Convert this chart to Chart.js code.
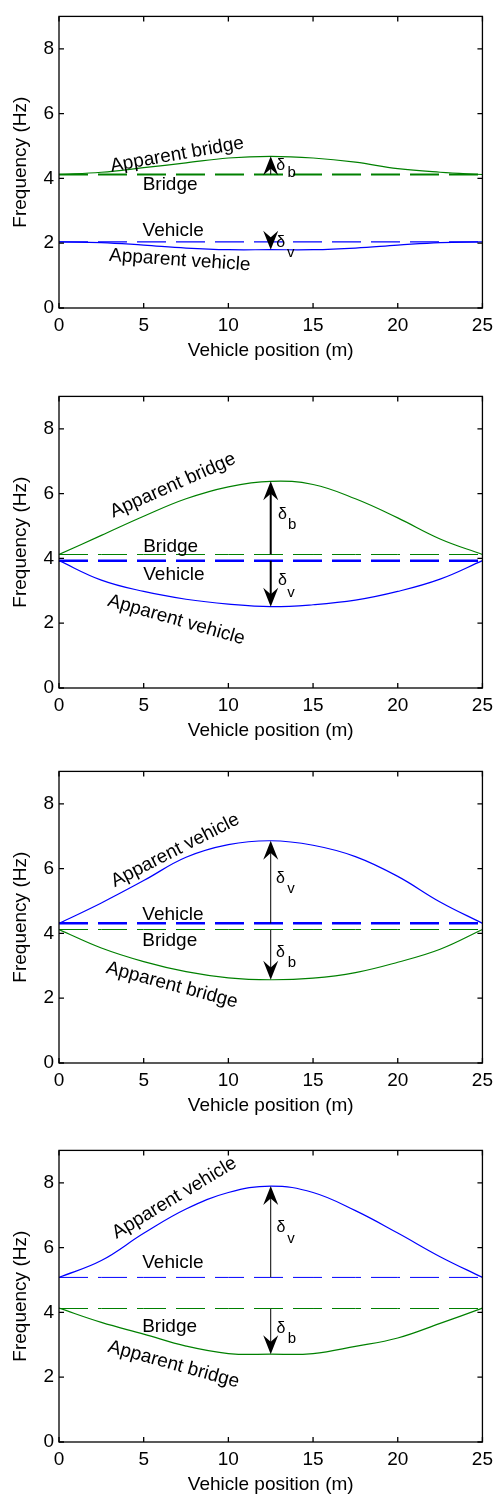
<!DOCTYPE html>
<html>
<head>
<meta charset="utf-8">
<script src="https://cdn.jsdelivr.net/npm/chart.js@4.4.0/dist/chart.umd.min.js"></script>
<style>
  html, body { margin: 0; padding: 0; background: #fff; }
  .panel { position: absolute; left: 0; width: 499px; height: 360px; }
</style>
</head>
<body>
<div class="panel" style="top:0px"><canvas id="c0" width="499" height="360"></canvas></div>
<div class="panel" style="top:380px"><canvas id="c1" width="499" height="360"></canvas></div>
<div class="panel" style="top:755px"><canvas id="c2" width="499" height="360"></canvas></div>
<div class="panel" style="top:1134px"><canvas id="c3" width="499" height="360"></canvas></div>
<script>
const positions = [0, 2.5, 5, 7.5, 10, 12.5, 15, 17.5, 20, 22.5, 25];
const xTicks = [0, 5, 10, 15, 20, 25];
const yTicks = [0, 2, 4, 6, 8];

// constant natural frequencies per panel (Hz)
const bridgeFreq = [4.12, 4.12, 4.12, 4.12];
const vehicleFreq = [2.04, 3.93, 4.31, 5.08];

// apparent frequencies
const appBridge1 = [4.12, 4.19, 4.33, 4.48, 4.63, 4.68, 4.63, 4.5, 4.3, 4.19, 4.12];
const appVehicle1 = [2.04, 2.02, 1.94, 1.85, 1.8, 1.8, 1.8, 1.85, 1.94, 2.02, 2.04];
const appBridge2 = [4.12, 4.71, 5.3, 5.84, 6.21, 6.38, 6.28, 5.84, 5.25, 4.6, 4.12];
const appVehicle2 = [3.93, 3.33, 2.98, 2.74, 2.59, 2.51, 2.57, 2.71, 2.98, 3.36, 3.93];
const appVehicle3 = [4.31, 4.94, 5.63, 6.35, 6.74, 6.86, 6.72, 6.37, 5.76, 4.97, 4.31];
const appBridge3 = [4.12, 3.55, 3.13, 2.82, 2.63, 2.57, 2.62, 2.79, 3.11, 3.51, 4.12];
const appVehicle4 = [5.08, 5.6, 6.44, 7.19, 7.7, 7.9, 7.7, 7.14, 6.45, 5.72, 5.08];
const appBridge4 = [4.13, 3.69, 3.33, 2.96, 2.73, 2.71, 2.73, 2.95, 3.21, 3.66, 4.13];

const GREEN = '#008000';
const BLUE = '#0000ff';
const FONT = '"Liberation Sans", Arial, Helvetica, sans-serif';

const panels = [
  {
    appBridge: appBridge1, appVehicle: appVehicle1, bridgeW: 2, vehicleW: 1.2, arrowW: 1,
    labels: [['Apparent bridge', 6.97, 4.73, -10], ['Bridge', 6.56, 3.79, 0], ['Vehicle', 6.74, 2.38, 0], ['Apparent vehicle', 7.13, 1.47, 4]],
    deltas: [['b', 13.09, 4.40, 13.74, 4.16], ['v', 13.09, 2.01, 13.68, 1.70]],
    arrows: [['bridge', 'appBridge'], ['vehicle', 'appVehicle']]
  },
  {
    appBridge: appBridge2, appVehicle: appVehicle2, bridgeW: 1, vehicleW: 2.5, arrowW: 2,
    labels: [['Apparent bridge', 6.73, 6.25, -24], ['Bridge', 6.59, 4.36, 0], ['Vehicle', 6.78, 3.49, 0], ['Apparent vehicle', 6.92, 2.10, 16]],
    deltas: [['b', 13.2, 5.34, 13.76, 5.05], ['v', 13.2, 3.33, 13.7, 2.94]],
    arrows: [['bridge', 'appBridge'], ['vehicle', 'appVehicle']]
  },
  {
    appBridge: appBridge3, appVehicle: appVehicle3, bridgeW: 1, vehicleW: 2.5, arrowW: 1,
    labels: [['Apparent vehicle', 6.87, 6.56, -27], ['Vehicle', 6.73, 4.59, 0], ['Bridge', 6.54, 3.77, 0], ['Apparent bridge', 6.67, 2.40, 15]],
    deltas: [['v', 13.08, 5.70, 13.7, 5.38], ['b', 13.08, 3.42, 13.75, 3.10]],
    arrows: [['vehicle', 'appVehicle'], ['bridge', 'appBridge']]
  },
  {
    appBridge: appBridge4, appVehicle: appVehicle4, bridgeW: 1, vehicleW: 1, arrowW: 1,
    labels: [['Apparent vehicle', 6.82, 7.53, -31], ['Vehicle', 6.72, 5.52, 0], ['Bridge', 6.53, 3.56, 0], ['Apparent bridge', 6.77, 2.39, 15.5]],
    deltas: [['v', 13.1, 6.61, 13.7, 6.28], ['b', 13.1, 3.51, 13.75, 3.18]],
    arrows: [['vehicle', 'appVehicle'], ['bridge', 'appBridge']]
  }
];

function pts(values) {
  return positions.map((x, i) => ({ x, y: values[i] }));
}

function drawArrow(ctx, x, yBase, yTip, lw) {
  const dir = yBase > yTip ? 1 : -1;
  const len = 19, half = 7.5;
  ctx.save();
  ctx.strokeStyle = '#000';
  ctx.fillStyle = '#000';
  ctx.lineWidth = lw;
  ctx.beginPath();
  ctx.moveTo(x, yBase);
  ctx.lineTo(x, yTip + dir * len * 0.6);
  ctx.stroke();
  ctx.beginPath();
  ctx.moveTo(x, yTip);
  ctx.lineTo(x - half, yTip + dir * len);
  ctx.lineTo(x, yTip + dir * len * 0.65);
  ctx.lineTo(x + half, yTip + dir * len);
  ctx.closePath();
  ctx.fill();
  ctx.restore();
}

const framePlugin = {
  id: 'frame',
  afterDraw(chart) {
    const { ctx, chartArea: a, scales } = chart;
    ctx.save();
    ctx.strokeStyle = '#000';
    ctx.lineWidth = 1.3;
    ctx.strokeRect(a.left, a.top, a.right - a.left, a.bottom - a.top);
    ctx.beginPath();
    xTicks.forEach((v) => {
      const px = scales.x.getPixelForValue(v);
      ctx.moveTo(px, a.bottom); ctx.lineTo(px, a.bottom - 5);
      ctx.moveTo(px, a.top); ctx.lineTo(px, a.top + 5);
    });
    yTicks.forEach((v) => {
      const py = scales.y.getPixelForValue(v);
      ctx.moveTo(a.left, py); ctx.lineTo(a.left + 5, py);
      ctx.moveTo(a.right, py); ctx.lineTo(a.right - 5, py);
    });
    ctx.stroke();
    ctx.restore();
  }
};

const notesPlugin = {
  id: 'notes',
  afterDatasetsDraw(chart) {
    const p = chart.options.plugins.notes.panel;
    const { ctx, scales } = chart;
    const X = (v) => scales.x.getPixelForValue(v);
    const Y = (v) => scales.y.getPixelForValue(v);
    const mid = positions.indexOf(12.5);
    const vals = {
      bridge: bridgeFreq[p.idx], vehicle: vehicleFreq[p.idx],
      appBridge: p.appBridge[mid], appVehicle: p.appVehicle[mid]
    };
    p.arrows.forEach(([from, to]) => drawArrow(ctx, X(12.5), Y(vals[from]), Y(vals[to]), p.arrowW));

    ctx.save();
    ctx.fillStyle = '#000';
    ctx.textAlign = 'center';
    ctx.textBaseline = 'middle';
    ctx.font = '19px ' + FONT;
    p.labels.forEach(([text, x, y, rot]) => {
      ctx.save();
      ctx.translate(X(x), Y(y));
      ctx.rotate(rot * Math.PI / 180);
      ctx.fillText(text, 0, 0);
      ctx.restore();
    });
    p.deltas.forEach(([sub, dx, dy, sx, sy]) => {
      ctx.font = '16px ' + FONT;
      ctx.fillText('δ', X(dx), Y(dy));
      ctx.font = '15px ' + FONT;
      ctx.fillText(sub, X(sx), Y(sy));
    });
    ctx.restore();
  }
};

panels.forEach((p, idx) => {
  p.idx = idx;
  const dash = [29, 10];
  new Chart(document.getElementById('c' + idx), {
    type: 'line',
    data: {
      datasets: [
        { data: pts(positions.map(() => bridgeFreq[idx])), borderColor: GREEN, borderWidth: p.bridgeW, borderDash: dash },
        { data: pts(positions.map(() => vehicleFreq[idx])), borderColor: BLUE, borderWidth: p.vehicleW, borderDash: dash },
        { data: pts(p.appBridge), borderColor: GREEN, borderWidth: 1.2, tension: 0.4 },
        { data: pts(p.appVehicle), borderColor: BLUE, borderWidth: 1.2, tension: 0.4 }
      ]
    },
    options: {
      responsive: false,
      animation: false,
      layout: { padding: { top: 5, right: 11, left: 0, bottom: 0 } },
      elements: { point: { radius: 0 } },
      plugins: { legend: { display: false }, tooltip: { enabled: false }, notes: { panel: p } },
      scales: {
        x: {
          type: 'linear', min: 0, max: 25,
          afterBuildTicks: (s) => { s.ticks = xTicks.map((v) => ({ value: v })); },
          afterFit: (s) => { s.height = 52; },
          grid: { display: false, drawTicks: false }, border: { display: false },
          ticks: { color: '#000', font: { family: FONT, size: 19 }, padding: 6, maxRotation: 0 },
          title: { display: true, text: 'Vehicle position (m)', color: '#000', font: { family: FONT, size: 19 }, padding: { top: 0, bottom: -2 } }
        },
        y: {
          type: 'linear', min: 0, max: 9,
          afterBuildTicks: (s) => { s.ticks = yTicks.map((v) => ({ value: v })); },
          afterFit: (s) => { s.width = 59; },
          grid: { display: false, drawTicks: false }, border: { display: false },
          ticks: { color: '#000', font: { family: FONT, size: 19 }, padding: 5 },
          title: { display: true, text: 'Frequency (Hz)', color: '#000', font: { family: FONT, size: 19 }, padding: { top: 9, bottom: 0 } }
        }
      }
    },
    plugins: [framePlugin, notesPlugin]
  });
});
</script>
</body>
</html>
